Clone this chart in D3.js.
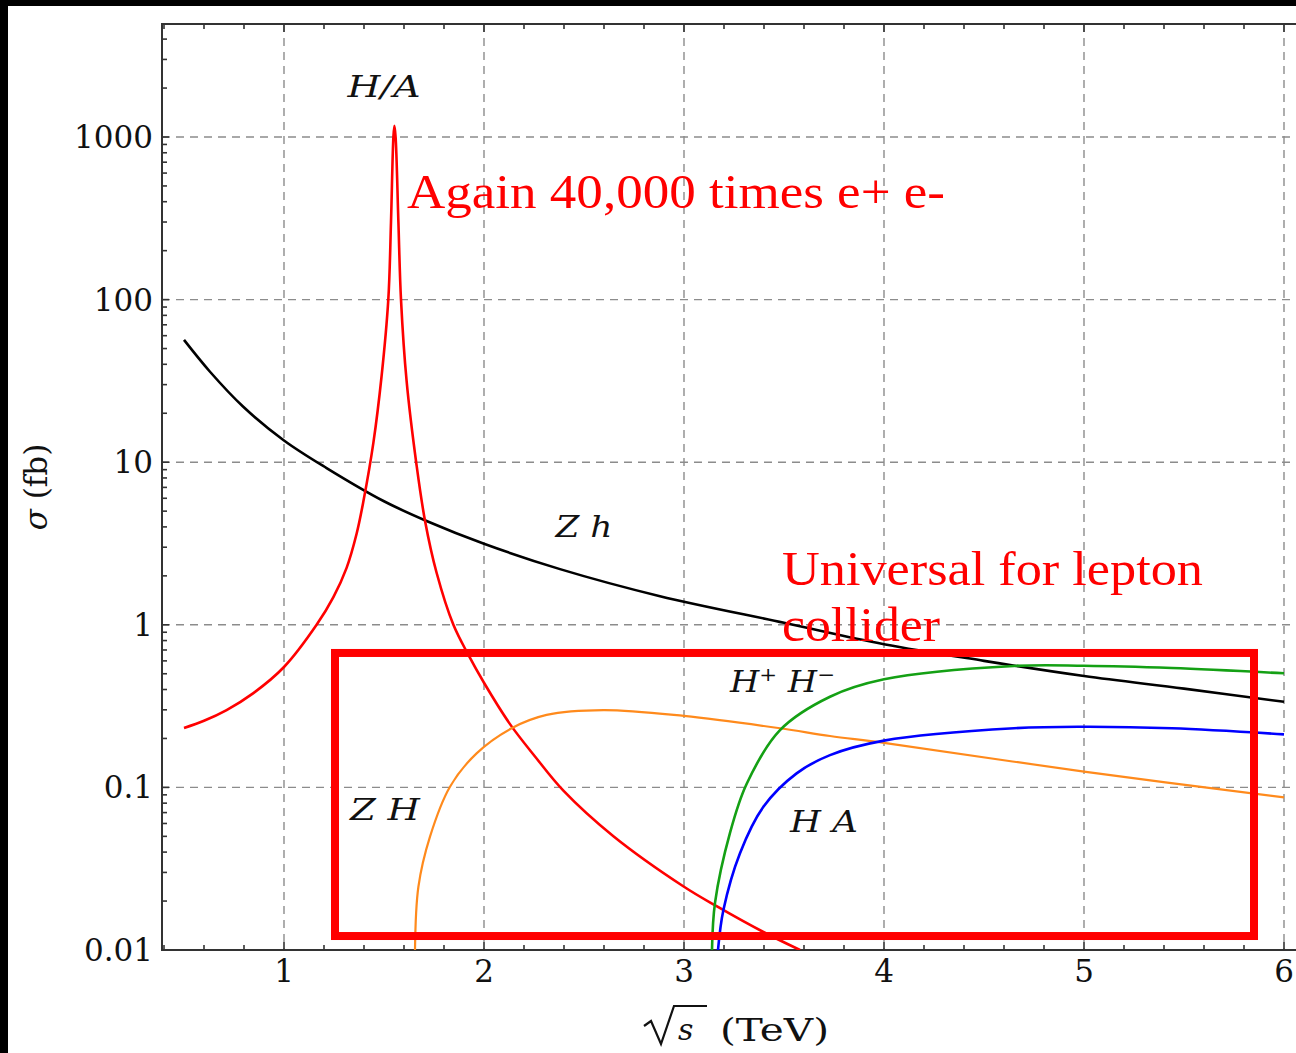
<!DOCTYPE html>
<html>
<head>
<meta charset="utf-8">
<script src="https://cdn.jsdelivr.net/npm/d3@7"></script>
<style>
  html, body { margin: 0; padding: 0; background: #fff; }
  svg { display: block; }
</style>
</head>
<body>
<svg id="chart" width="1296" height="1053"></svg>
<script>
// ---------- DATA ----------
const xTickValues = [1, 2, 3, 4, 5, 6];
const xTickLabels = ["1", "2", "3", "4", "5", "6"];
const yTickValues = [0.01, 0.1, 1, 10, 100, 1000];
const yTickLabels = ["0.01", "0.1", "1", "10", "100", "1000"];

// Z h (black)
const zhX = [0.5, 0.63, 0.795, 1, 1.213, 1.5, 1.713, 2, 2.38, 2.88, 3.5, 4, 4.5, 5, 5.5, 6];
const zhY = [56.5, 36, 22, 13.6, 9.2, 5.75, 4.35, 3.15, 2.2, 1.5, 1.03, 0.76, 0.6, 0.484, 0.405, 0.336];

// H/A resonance (red)
const haX = [0.5, 0.6, 0.713, 0.847, 1, 1.163, 1.247, 1.313, 1.363, 1.397, 1.447, 1.488, 1.5215, 1.535, 1.547, 1.552,
             1.558, 1.572, 1.585, 1.613, 1.663, 1.705, 1.763, 1.847, 1.92, 2.0, 2.13, 2.255, 2.397, 2.647, 3.0, 3.163, 3.397, 3.58];
const haY = [0.232, 0.257, 0.299, 0.38, 0.55, 1.0, 1.48, 2.24, 3.63, 5.75, 13.2, 33.9, 100, 300, 1000, 1170,
             1000, 300, 100, 31.6, 9.55, 4.37, 2.09, 1.0, 0.66, 0.44, 0.245, 0.155, 0.0955, 0.0501, 0.0245, 0.0186, 0.0129, 0.01];

// Z H (orange)
const zHX = [1.655, 1.672, 1.73, 1.83, 1.963, 2.138, 2.313, 2.597, 3.0, 3.48, 3.73, 4, 5, 6];
const zHY = [0.01, 0.0245, 0.0498, 0.101, 0.162, 0.231, 0.279, 0.299, 0.275, 0.231, 0.207, 0.188, 0.125, 0.0869];

// H+ H- (green)
const hpmX = [3.14, 3.155, 3.23, 3.313, 3.48, 3.73, 4, 4.65, 5, 5.44, 6];
const hpmY = [0.01, 0.0195, 0.0525, 0.105, 0.225, 0.361, 0.462, 0.558, 0.56, 0.542, 0.503];

// H A (blue)
const hAX = [3.17, 3.197, 3.28, 3.397, 3.563, 3.73, 4, 4.65, 5, 5.44, 6];
const hAY = [0.01, 0.0176, 0.0394, 0.076, 0.122, 0.158, 0.194, 0.231, 0.236, 0.231, 0.212];

const seriesNames = ["Zh", "HA_res", "ZH", "HpHm", "HA"];
const seriesColors = ["#000000", "#ff0000", "#ff8a1c", "#14a014", "#0000ff"];
const seriesWidths = [2.6, 2.6, 2.2, 2.6, 2.6];

// curve labels (data coordinates, centre / baseline)
const labelTexts = ["H/A", "Z h", "Z H", "H A"];
const labelX = [1.5, 2.5, 1.505, 3.7];
const labelY = [1763, 3.47, 0.063, 0.0532];
const labelLens = [73, 57, 70, 68];

// annotations (data coordinates)
const noteTexts = ["Again 40,000 times e+ e-", "Universal for lepton", "collider"];
const noteX = [1.615, 3.49, 3.49];
const noteY = [366, 1.76, 0.795];
const noteLens = [538, 421, 158];
const boxX = [1.255, 5.85];
const boxY = [0.671, 0.01219];

// ---------- CHART ----------
(function () {
const svg = d3.select("#chart");
const W = 1296, H = 1053;
const pL = 162, pT = 24, pB = 950, pR = 1298;

svg.append("rect").attr("width", W).attr("height", H).attr("fill", "#fff");

const x = d3.scaleLinear().domain([0.39, 6.07]).range([pL, pR]);
const y = d3.scaleLog().domain([0.01, Math.pow(10, 3 + (137 - 24) / 162.6)]).range([pB, pT]);

svg.append("clipPath").attr("id", "plotclip")
  .append("rect").attr("x", pL).attr("y", pT).attr("width", pR - pL).attr("height", pB - pT);

// grid
const grid = svg.append("g");
grid.selectAll("line.gx").data(xTickValues).join("line")
  .attr("x1", d => x(d)).attr("x2", d => x(d)).attr("y1", pT).attr("y2", pB)
  .attr("stroke", "#8c8c8c").attr("stroke-width", 1.4).attr("stroke-dasharray", "8,6");
grid.selectAll("line.gy").data(yTickValues.filter(v => v > 0.01)).join("line")
  .attr("x1", pL).attr("x2", pR).attr("y1", d => y(d)).attr("y2", d => y(d))
  .attr("stroke", "#8c8c8c").attr("stroke-width", 1.4).attr("stroke-dasharray", "8,6");

// frame
const frame = svg.append("g").attr("stroke", "#333").attr("stroke-width", 2).attr("fill", "none");
frame.append("line").attr("x1", pL).attr("x2", pL).attr("y1", pT - 1).attr("y2", pB + 1);
frame.append("line").attr("x1", pL).attr("x2", pR).attr("y1", pT).attr("y2", pT);
frame.append("line").attr("x1", pL).attr("x2", pR).attr("y1", pB).attr("y2", pB);
frame.append("line").attr("x1", pR).attr("x2", pR).attr("y1", pT).attr("y2", pB);

// ticks
const xMinor = d3.range(0.4, 6.05, 0.2).filter(v => Math.abs(v - Math.round(v)) > 0.01);
const yMinor = [];
for (let k = -2; k <= 3; k++) for (let m = 2; m <= 9; m++) {
  const v = m * Math.pow(10, k);
  if (v <= y.domain()[1]) yMinor.push(v);
}
const ticks = svg.append("g").attr("stroke", "#333").attr("stroke-width", 1.6);
function xt(vals, len) {
  ticks.selectAll(null).data(vals).join("line")
    .attr("x1", d => x(d)).attr("x2", d => x(d)).attr("y1", pB).attr("y2", pB - len);
  ticks.selectAll(null).data(vals).join("line")
    .attr("x1", d => x(d)).attr("x2", d => x(d)).attr("y1", pT).attr("y2", pT + len);
}
xt(xMinor, 5); xt(xTickValues, 8);
function yt(vals, len) {
  ticks.selectAll(null).data(vals).join("line")
    .attr("x1", pL).attr("x2", pL + len).attr("y1", d => y(d)).attr("y2", d => y(d));
}
yt(yMinor, 5); yt(yTickValues, 7);

// tick labels
const serif = "'DejaVu Serif', 'Liberation Serif', serif";
svg.append("g").selectAll("text").data(xTickValues).join("text")
  .attr("x", d => x(d)).attr("y", 982).attr("text-anchor", "middle")
  .attr("font-family", serif).attr("font-size", 31).attr("fill", "#111")
  .text((d, i) => xTickLabels[i]);
svg.append("g").selectAll("text").data(yTickValues).join("text")
  .attr("x", 153).attr("y", d => y(d) + 11).attr("text-anchor", "end")
  .attr("font-family", serif).attr("font-size", 31).attr("fill", "#111")
  .text((d, i) => yTickLabels[i]);

// x axis title: radical sign + s + (TeV)
const xtg = svg.append("g").attr("font-family", serif).attr("fill", "#111");
xtg.append("path")
  .attr("d", "M644,1026 L651,1021 L661,1044 L674,1006 L707,1006")
  .attr("fill", "none").attr("stroke", "#111").attr("stroke-width", 2.2).attr("stroke-linejoin", "miter");
xtg.append("text").attr("x", 678).attr("y", 1040).attr("font-size", 30).attr("font-style", "italic").text("s");
xtg.append("text").attr("x", 720).attr("y", 1041).attr("font-size", 31)
  .attr("textLength", 109).attr("lengthAdjust", "spacingAndGlyphs").text("(TeV)");

// y axis title
svg.append("text").attr("transform", "translate(47,487) rotate(-90)")
  .attr("text-anchor", "middle").attr("font-family", serif).attr("font-size", 31).attr("fill", "#111")
  .html("<tspan font-style='italic'>\u03C3</tspan> (fb)");

// curves
const allX = [zhX, haX, zHX, hpmX, hAX];
const allY = [zhY, haY, zHY, hpmY, hAY];
const line = d3.line().x(d => x(d[0])).y(d => y(d[1])).curve(d3.curveCatmullRom.alpha(0.5));
const curves = svg.append("g").attr("clip-path", "url(#plotclip)");
seriesNames.forEach((name, i) => {
  const pts = allX[i].map((v, j) => [v, allY[i][j]]);
  curves.append("path").datum(pts).attr("d", line)
    .attr("fill", "none").attr("stroke", seriesColors[i]).attr("stroke-width", seriesWidths[i])
    .attr("stroke-linejoin", "round");
});

// curve labels
const lab = svg.append("g").attr("font-family", serif).attr("font-style", "italic")
  .attr("font-size", 30).attr("fill", "#111");
labelTexts.forEach((t, i) => {
  lab.append("text").attr("x", x(labelX[i])).attr("y", y(labelY[i])).attr("text-anchor", "middle")
    .attr("xml:space", "preserve").attr("textLength", labelLens[i]).attr("lengthAdjust", "spacingAndGlyphs")
    .text(t);
});
const hl = lab.append("text").attr("x", x(3.23)).attr("y", y(0.386))
  .attr("textLength", 105).attr("lengthAdjust", "spacingAndGlyphs").attr("xml:space", "preserve");
hl.append("tspan").text("H");
hl.append("tspan").attr("dy", -11).attr("font-size", 19).attr("font-style", "normal").text("+");
hl.append("tspan").attr("dy", 11).text(" H");
hl.append("tspan").attr("dy", -11).attr("font-size", 19).attr("font-style", "normal").text("\u2212");

// annotations
const notes = svg.append("g").attr("font-family", "'Liberation Serif', 'Times New Roman', serif")
  .attr("font-size", 49).attr("fill", "#ff0000");
noteTexts.forEach((t, i) => {
  notes.append("text").attr("x", x(noteX[i])).attr("y", y(noteY[i]))
    .attr("textLength", noteLens[i]).attr("lengthAdjust", "spacingAndGlyphs").text(t);
});
svg.append("rect")
  .attr("x", x(boxX[0])).attr("y", y(boxY[0]))
  .attr("width", x(boxX[1]) - x(boxX[0])).attr("height", y(boxY[1]) - y(boxY[0]))
  .attr("fill", "none").attr("stroke", "#ff0000").attr("stroke-width", 8);

// black border bands (top & left)
svg.append("rect").attr("x", 0).attr("y", 0).attr("width", W).attr("height", 6).attr("fill", "#000");
svg.append("rect").attr("x", 0).attr("y", 0).attr("width", 8).attr("height", H).attr("fill", "#000");
})();
</script>
</body>
</html>
